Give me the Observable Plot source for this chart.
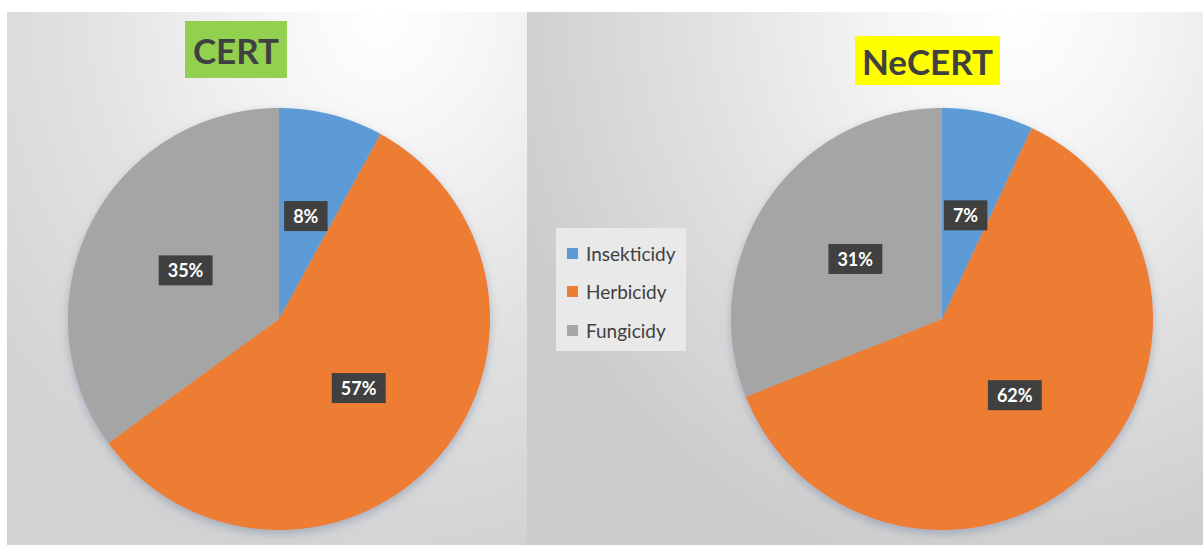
<!DOCTYPE html>
<html><head><meta charset="utf-8">
<script src="https://cdn.jsdelivr.net/npm/d3@7"></script>
<script src="https://cdn.jsdelivr.net/npm/@observablehq/plot@0.6"></script>
<style>
html,body{margin:0;padding:0;background:#fff}
#wrap{position:relative;width:1203px;height:545px;overflow:hidden;font-family:Lato,"Open Sans",sans-serif}
.panel{position:absolute;top:12px;height:533px}
#p1{left:7px;width:520px;background:radial-gradient(ellipse 95% 105% at 72% 0%, #ffffff 0%, #f6f6f6 22%, #e2e2e2 60%, #d2d2d2 100%)}
#p2{left:527px;width:676px;background:radial-gradient(ellipse 80% 110% at 72% 0%, #ffffff 0%, #f6f6f6 22%, #e0e0e0 60%, #cbcbcb 100%)}
#chart{position:absolute;left:0;top:0}
.title{position:absolute;display:flex;align-items:center;justify-content:center;font-weight:bold;font-size:35px;color:#404040;font-family:Lato,sans-serif}
#legend{position:absolute;left:556px;top:228px;width:130px;height:123px;background:#e9e9e9}
.li{position:absolute;left:11px;display:flex;align-items:center;font-size:19px;color:#404040;font-family:Lato,sans-serif;height:20px}
.sw{width:11px;height:11px;margin-right:8px}
</style></head>
<body>
<div id="wrap">
  <div class="panel" id="p1"></div>
  <div class="panel" id="p2"></div>
  <div id="chart"></div>
  <div id="legend"></div>
</div>
<script>
// ---- data ----
const categories = ["Insekticidy", "Herbicidy", "Fungicidy"];
const colors = ["#5B9BD5", "#ED7D31", "#A5A5A5"];
const groups = ["CERT", "NeCERT"];
const certValues = [8, 57, 35];
const necertValues = [7, 62, 31];
const titleColors = ["#92D050", "#FFFF00"];

// ---- layout ----
const W = 1203, H = 545;
const R = 211;                    // pie radius in px
const centersPx = [279, 942];     // pie centre x in px
const centerYPx = 319;            // pie centre y in px
const labelRadius = 0.5;

const series = [certValues, necertValues];
const offsets = centersPx.map(c => (c - centersPx[0]) / R);

const slicePts = [];
const labels = [];
groups.forEach((g, gi) => {
  const vals = series[gi];
  const total = d3.sum(vals);
  let cum = 0;
  vals.forEach((v, ci) => {
    const a0 = cum / total * 2 * Math.PI;
    cum += v;
    const a1 = cum / total * 2 * Math.PI;
    const n = Math.max(4, Math.ceil((a1 - a0) / (Math.PI / 360)));
    for (let k = 0; k <= n; k++) {
      const a = a0 + (a1 - a0) * k / n;
      slicePts.push({key: g + "-" + categories[ci], cat: categories[ci],
        x1: offsets[gi] + Math.sin(a), y1: Math.cos(a), x2: offsets[gi], y2: 0});
    }
    const m = (a0 + a1) / 2;
    labels.push({x: offsets[gi] + labelRadius * Math.sin(m), y: labelRadius * Math.cos(m), text: v + "%"});
  });
});

const chart = Plot.plot({
  width: W, height: H,
  margin: 0,
  style: {background: "transparent", overflow: "visible"},
  x: {domain: [-centersPx[0] / R, (W - centersPx[0]) / R], axis: null},
  y: {domain: [-(H - centerYPx) / R, centerYPx / R], axis: null},
  color: {domain: categories, range: colors},
  marks: [
    Plot.area(slicePts, {x1: "x1", y1: "y1", x2: "x2", y2: "y2", z: "key", fill: "cat", curve: "linear"}),
    Plot.text(labels, {x: "x", y: "y", text: "text", fill: "white", fontWeight: "bold", fontSize: 18, fontFamily: "Lato, sans-serif"})
  ]
});
document.getElementById("chart").appendChild(chart);

// drop shadow for pies
const svg = d3.select(chart);
const defs = svg.insert("defs", ":first-child");
const f = defs.append("filter").attr("id", "pieShadow").attr("x", "-20%").attr("y", "-20%").attr("width", "140%").attr("height", "140%");
f.append("feDropShadow").attr("dx", 0).attr("dy", 4).attr("stdDeviation", 5).attr("flood-color", "#7e8ea8").attr("flood-opacity", 0.55);
svg.select('g[aria-label="area"]').attr("filter", "url(#pieShadow)");

// dark boxes behind labels
svg.selectAll('g[aria-label="text"] text').each(function() {
  const bb = this.getBBox();
  const cy = bb.y + bb.height / 2;
  const r = document.createElementNS("http://www.w3.org/2000/svg", "rect");
  r.setAttribute("x", bb.x - 9);
  r.setAttribute("y", cy - 15);
  r.setAttribute("width", bb.width + 18);
  r.setAttribute("height", 30);
  r.setAttribute("fill", "#404040");
  const t = this.getAttribute("transform");
  if (t) r.setAttribute("transform", t);
  this.parentNode.insertBefore(r, this);
});

// titles
const titleBoxes = [
  {left: 185, top: 21, width: 102, height: 57},
  {left: 855, top: 36, width: 145, height: 49}
];
const wrap = document.getElementById("wrap");
groups.forEach((g, i) => {
  const d = document.createElement("div");
  d.className = "title";
  Object.assign(d.style, {left: titleBoxes[i].left + "px", top: titleBoxes[i].top + "px",
    width: titleBoxes[i].width + "px", height: titleBoxes[i].height + "px", background: titleColors[i]});
  d.textContent = g;
  wrap.appendChild(d);
});

// legend
const legend = document.getElementById("legend");
categories.forEach((c, i) => {
  const li = document.createElement("div");
  li.className = "li";
  li.style.top = (15 + i * 38.5) + "px";
  const sw = document.createElement("div");
  sw.className = "sw";
  sw.style.background = colors[i];
  li.appendChild(sw);
  li.appendChild(document.createTextNode(c));
  legend.appendChild(li);
});
</script>
</body></html>
